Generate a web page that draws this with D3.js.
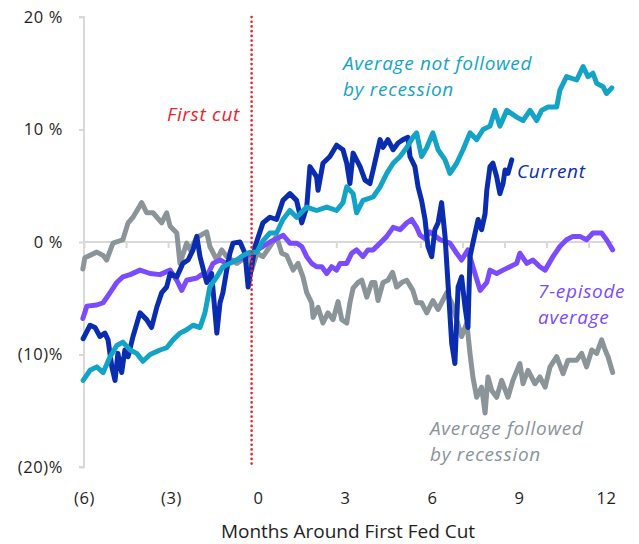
<!DOCTYPE html>
<html>
<head>
<meta charset="utf-8">
<script src="https://cdn.jsdelivr.net/npm/d3@7/dist/d3.min.js"></script>
<style>
  html, body { margin: 0; padding: 0; background: #ffffff; }
  svg { display: block; font-family: "Open Sans", "Noto Sans", sans-serif; }
</style>
</head>
<body>
<svg id="chart" width="639" height="544"></svg>
<script>
// ---------- DATA (months around first cut, % return) ----------
const avgRecession = [
  [-6.04,-2.4],[-5.97,-1.4],[-5.56,-0.9],[-5.34,-1.2],[-5.22,-1.6],[-5.00,-0.1],[-4.66,0.2],[-4.48,1.7],
  [-4.31,2.2],[-4.01,3.5],[-3.84,2.6],[-3.62,2.6],[-3.32,1.7],[-3.15,2.6],[-3.03,1.4],[-2.80,0.8],
  [-2.69,-1.9],[-2.46,-0.1],[-2.34,-0.7],[-2.11,0.4],[-1.77,0.9],[-1.66,-0.4],[-1.42,-1.6],[-1.25,-0.7],
  [-1.08,-1.3],[-0.73,-1.9],[-0.39,-1.3],[-0.22,-2.5],[-0.04,-1.0],[0.17,-1.3],[0.41,-0.4],[0.64,0.5],
  [0.82,-1.0],[0.99,-1.2],[1.21,-2.5],[1.38,-1.9],[1.55,-3.1],[1.68,-4.5],[1.85,-5.4],[1.90,-6.7],
  [2.07,-5.8],[2.24,-7.2],[2.41,-6.3],[2.59,-6.9],[2.76,-5.3],[2.89,-6.9],[3.06,-7.2],[3.17,-5.4],
  [3.28,-4.1],[3.45,-3.6],[3.58,-3.4],[3.75,-4.9],[3.92,-3.6],[4.03,-3.6],[4.14,-5.2],[4.31,-3.6],
  [4.48,-3.4],[4.64,-2.7],[4.78,-4.0],[4.96,-3.6],[5.13,-3.4],[5.34,-4.3],[5.47,-5.4],[5.64,-5.4],
  [5.82,-6.3],[6.03,-5.2],[6.21,-6.0],[6.51,-4.5],[6.68,-5.4],[6.85,-6.9],[7.02,-8.4],[7.20,-7.2],
  [7.31,-9.9],[7.41,-12.0],[7.54,-13.8],[7.71,-12.9],[7.83,-15.2],[7.93,-12.0],[8.06,-13.2],[8.23,-13.8],
  [8.40,-12.3],[8.62,-13.8],[8.79,-12.3],[9.03,-10.8],[9.14,-12.6],[9.31,-11.4],[9.55,-12.6],[9.72,-12.0],
  [9.90,-12.9],[10.07,-11.1],[10.30,-10.2],[10.52,-11.7],[10.69,-10.5],[10.99,-10.5],[11.16,-9.9],[11.33,-11.1],
  [11.51,-9.6],[11.68,-9.9],[11.85,-8.7],[11.97,-9.6],[12.07,-10.2],[12.23,-11.6]
];

const sevenEpisode = [
  [-6.04,-6.8],[-5.90,-5.7],[-5.56,-5.6],[-5.34,-5.4],[-5.10,-4.5],[-4.87,-3.6],[-4.66,-3.1],[-4.41,-2.9],
  [-4.07,-2.5],[-3.72,-2.8],[-3.38,-2.9],[-3.03,-2.5],[-2.80,-3.4],[-2.63,-4.3],[-2.46,-3.4],[-2.11,-3.2],
  [-1.94,-2.9],[-1.77,-3.1],[-1.55,-1.9],[-1.31,-1.6],[-1.08,-1.9],[-0.73,-1.6],[-0.39,-1.3],[-0.04,-0.7],
  [0.17,-0.4],[0.41,0.0],[0.64,0.3],[0.87,0.6],[1.10,-0.1],[1.33,-0.1],[1.51,-0.4],[1.68,-1.3],
  [1.85,-1.9],[2.02,-2.2],[2.20,-2.2],[2.37,-2.8],[2.54,-2.2],[2.71,-2.5],[2.83,-1.9],[3.06,-1.9],
  [3.23,-1.0],[3.40,-0.7],[3.62,-1.3],[3.79,-0.7],[3.97,-0.7],[4.21,-0.1],[4.44,0.5],[4.66,1.3],
  [4.90,1.1],[5.13,1.7],[5.30,2.0],[5.47,1.3],[5.59,0.6],[5.76,0.3],[5.93,0.9],[6.28,0.2],
  [6.62,-0.1],[6.85,-1.0],[7.02,-1.6],[7.24,-0.7],[7.41,-2.2],[7.66,-4.3],[7.89,-3.6],[8.00,-2.5],
  [8.23,-2.8],[8.45,-2.5],[8.69,-2.2],[8.92,-1.9],[9.03,-1.0],[9.27,-1.9],[9.48,-1.6],[9.72,-2.2],
  [9.90,-2.5],[10.17,-1.3],[10.41,-0.4],[10.64,0.2],[10.86,0.5],[11.10,0.5],[11.33,0.2],[11.55,0.8],
  [11.85,0.8],[12.02,0.2],[12.23,-0.7]
];

const avgNoRecession = [
  [-6.03,-12.3],[-5.79,-11.4],[-5.56,-11.1],[-5.34,-11.6],[-5.10,-10.2],[-4.87,-9.2],[-4.66,-8.9],[-4.41,-9.6],
  [-4.18,-9.9],[-3.97,-10.6],[-3.72,-10.0],[-3.38,-9.6],[-3.15,-9.4],[-2.93,-8.7],[-2.69,-8.1],[-2.46,-7.8],
  [-2.24,-7.4],[-2.00,-7.6],[-1.83,-6.3],[-1.66,-4.0],[-1.42,-3.1],[-1.21,-2.2],[-0.97,-1.9],[-0.73,-1.6],
  [-0.52,-1.2],[-0.28,-0.9],[-0.04,-0.9],[0.17,0.1],[0.41,0.8],[0.64,0.8],[0.86,2.0],[1.10,2.8],
  [1.33,2.2],[1.68,3.1],[2.02,2.8],[2.37,3.1],[2.71,2.8],[2.93,3.5],[3.06,4.9],[3.28,4.3],
  [3.40,2.6],[3.62,3.7],[3.97,4.0],[4.21,4.9],[4.44,6.1],[4.66,7.0],[4.90,7.6],[5.13,8.4],
  [5.34,9.3],[5.47,9.7],[5.64,7.6],[5.82,8.4],[6.03,9.7],[6.21,8.2],[6.45,7.3],[6.62,6.1],
  [6.85,7.0],[7.07,8.2],[7.31,9.7],[7.54,9.1],[7.76,10.0],[8.00,10.3],[8.17,11.7],[8.34,10.3],
  [8.58,11.7],[8.92,11.1],[9.14,10.8],[9.38,11.7],[9.61,10.8],[9.78,11.7],[10.00,12.0],[10.30,12.0],
  [10.41,13.5],[10.64,14.7],[10.99,14.4],[11.21,15.6],[11.38,14.7],[11.55,15.0],[11.68,14.1],[11.90,13.8],
  [12.02,13.2],[12.20,13.7]
];

const current = [
  [-6.03,-8.6],[-5.79,-7.4],[-5.62,-7.6],[-5.45,-8.4],[-5.28,-8.1],[-5.17,-8.7],[-5.04,-11.1],[-4.93,-12.3],
  [-4.83,-9.9],[-4.70,-11.6],[-4.59,-9.6],[-4.48,-10.2],[-4.31,-8.4],[-4.07,-6.3],[-3.84,-6.9],[-3.67,-7.6],
  [-3.49,-5.8],[-3.32,-4.5],[-3.15,-4.0],[-3.03,-2.8],[-2.80,-3.1],[-2.59,-1.9],[-2.41,-1.6],[-2.24,-0.7],
  [-2.11,0.5],[-2.00,-1.3],[-1.77,-3.6],[-1.60,-2.8],[-1.42,-8.1],[-1.31,-5.4],[-1.21,-4.5],[-1.08,-2.5],
  [-0.97,-1.0],[-0.86,-0.1],[-0.62,0.0],[-0.45,-1.0],[-0.34,-4.0],[-0.22,-2.2],[-0.10,-0.4],[0.17,1.7],
  [0.41,2.2],[0.64,2.0],[0.86,3.7],[1.10,4.3],[1.33,3.7],[1.51,1.7],[1.68,3.1],[1.79,6.7],
  [2.02,5.8],[2.07,4.6],[2.24,7.0],[2.48,7.6],[2.71,8.6],[2.93,8.2],[3.06,7.0],[3.17,5.2],
  [3.28,7.9],[3.52,6.7],[3.69,5.5],[3.86,5.2],[3.97,6.4],[4.21,9.1],[4.31,8.4],[4.48,9.1],
  [4.66,8.2],[4.83,8.8],[5.00,9.1],[5.17,9.3],[5.24,7.6],[5.41,6.7],[5.52,4.9],[5.64,3.7],
  [5.76,2.0],[5.86,-0.4],[5.99,-1.3],[6.10,1.1],[6.21,1.7],[6.33,3.5],[6.45,0.5],[6.55,-3.6],
  [6.68,-9.0],[6.79,-10.8],[6.90,-4.0],[7.02,-3.1],[7.14,-5.8],[7.24,-7.6],[7.31,-1.3],[7.41,-0.1],
  [7.59,2.0],[7.71,1.1],[7.83,2.5],[7.89,4.6],[8.00,6.7],[8.10,7.0],[8.23,5.8],[8.34,4.3],
  [8.45,5.2],[8.52,6.4],[8.62,6.1],[8.75,7.3]
];

const xTickValues = [-6, -3, 0, 3, 6, 9, 12];
const xTickLabels = ["(6)", "(3)", "0", "3", "6", "9", "12"];
const yTickValues = [20, 10, 0, -10, -20];
const yTickLabels = ["20 %", "10 %", "0 %", "(10)%", "(20)%"];
const minorTickStart = -6, minorTickStep = 1.45, minorTickCount = 13;
const firstCutMonth = -0.22;
const xTitle = "Months Around First Fed Cut";

// ---------- LAYOUT ----------
const svg = d3.select("#chart");
const x = d3.scaleLinear().domain([-6, 12]).range([84, 606]);
const y = d3.scaleLinear().domain([-20, 20]).range([467, 17]);

const axisGrey = "#d9d9d9";
const textColor = "#1e1e1e";
const colors = {
  grey: "#8a9499",
  purple: "#7a4bff",
  cyan: "#13a3c7",
  blue: "#0a2db0",
  red: "#e8242f"
};
const fontFamily = "'Open Sans', 'Noto Sans', sans-serif";

// Y axis (left)
const yAxis = d3.axisLeft(y).tickValues(yTickValues)
  .tickFormat((d, i) => yTickLabels[i]).tickSize(5).tickPadding(16);
const gy = svg.append("g").attr("transform", `translate(${x(-6)},0)`).call(yAxis);
gy.select(".domain").attr("stroke", axisGrey).attr("stroke-width", 2)
  .attr("d", `M-5,${y(20)}H0V${y(-20)}H-5`);
gy.selectAll(".tick line").attr("stroke", axisGrey).attr("stroke-width", 2);
gy.selectAll(".tick text").attr("fill", textColor)
  .style("font-size", "16.5px").style("letter-spacing", "0.6px")
  .style("font-family", fontFamily);

// Zero line with small ticks hanging down
const minorTicks = d3.range(minorTickCount).map(i => minorTickStart + i * minorTickStep);
const gz = svg.append("g").attr("transform", `translate(0,${y(0)})`)
  .call(d3.axisBottom(x).tickValues(minorTicks).tickSize(6).tickFormat(""));
gz.select(".domain").attr("stroke", axisGrey).attr("stroke-width", 2)
  .attr("d", `M${x(-6)},0H${x(12.25)}`);
gz.selectAll(".tick line").attr("stroke", axisGrey).attr("stroke-width", 2);

// X labels (bottom)
const gx = svg.append("g").attr("transform", `translate(0,${y(-20)})`)
  .call(d3.axisBottom(x).tickValues(xTickValues).tickSize(0).tickPadding(25)
    .tickFormat((d, i) => xTickLabels[i]));
gx.select(".domain").remove();
gx.selectAll(".tick text").attr("fill", textColor)
  .style("font-size", "16.5px").style("letter-spacing", "0.6px")
  .style("font-family", fontFamily);

svg.append("text").attr("x", 348).attr("y", 538).attr("text-anchor", "middle")
  .attr("fill", textColor).style("font-size", "19px").text(xTitle);

// Lines
const line = d3.line().x(d => x(d[0])).y(d => y(d[1]));
const series = [
  { data: avgRecession, color: colors.grey },
  { data: sevenEpisode, color: colors.purple },
  { data: current, color: colors.blue },
  { data: avgNoRecession, color: colors.cyan }
];
svg.append("g").selectAll("path").data(series).join("path")
  .attr("d", d => line(d.data))
  .attr("fill", "none")
  .attr("stroke", d => d.color)
  .attr("stroke-width", 5)
  .attr("stroke-linejoin", "round")
  .attr("stroke-linecap", "round");

// First cut dotted line
svg.append("line")
  .attr("x1", x(firstCutMonth)).attr("x2", x(firstCutMonth))
  .attr("y1", y(20)).attr("y2", y(-20))
  .attr("stroke", colors.red).attr("stroke-width", 2.6)
  .attr("stroke-dasharray", "0.1,4.6").attr("stroke-linecap", "round");

// Labels
const labels = [
  { lines: ["First cut"], x: 240, y: 121, anchor: "end", color: colors.red },
  { lines: ["Average not followed", "by recession"], x: 343, y: 69.5, anchor: "start", color: colors.cyan },
  { lines: ["Current"], x: 517, y: 178, anchor: "start", color: colors.blue },
  { lines: ["7-episode", "average"], x: 538, y: 297.5, anchor: "start", color: colors.purple },
  { lines: ["Average followed", "by recession"], x: 430, y: 434.5, anchor: "start", color: colors.grey }
];
labels.forEach(l => {
  const t = svg.append("text").attr("x", l.x).attr("y", l.y)
    .attr("text-anchor", l.anchor).attr("fill", l.color)
    .style("font-size", "19px").style("letter-spacing", "0.7px")
    .style("font-style", "italic");
  l.lines.forEach((s, i) => {
    t.append("tspan").attr("x", l.x).attr("dy", i === 0 ? 0 : 26).text(s);
  });
});
</script>
</body>
</html>
